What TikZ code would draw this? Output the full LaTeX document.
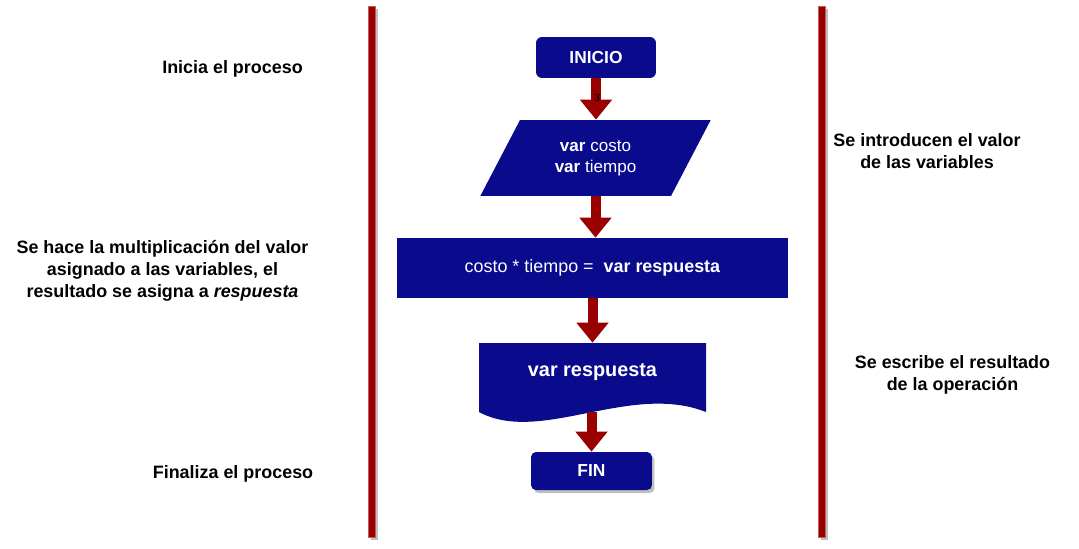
\documentclass[tikz,border=0pt]{standalone}
\usepackage{fontspec}
\setmainfont{Liberation Sans}
\usetikzlibrary{shapes.geometric,arrows.meta,shadows}
\definecolor{azul}{RGB}{10,10,140}
\definecolor{rojo}{RGB}{153,0,0}
\definecolor{borde}{RGB}{196,90,90}

\begin{document}
\begin{tikzpicture}[x=0.02cm,y=-0.02cm,
  caja/.style={fill=azul, text=white, inner sep=0pt, font=\fontsize{9.9}{12}\selectfont\bfseries},
  sombra/.style={drop shadow={shadow xshift=0.05cm, shadow yshift=-0.06cm, fill=black!25, opacity=1}},
  flecha/.style={draw=rojo, line width=0.2cm, -{Triangle[width=0.62cm,length=0.4cm]}},
  nota/.style={align=center, font=\fontsize{10.2}{12.6}\selectfont\bfseries},
  barra/.style={fill=rojo, draw=borde, line width=0.5pt, inner sep=0pt, minimum width=0.14cm, minimum height=10.62cm, sombra}]
\useasboundingbox (0,0) rectangle (1079,548);
% lineas de separacion
\node[barra] (barraizq) at (371.5,271.5) {};
\node[barra] (barrader) at (821.5,271.5) {};
% diagrama
\node[caja, rounded corners=0.12cm, minimum width=2.4cm, minimum height=0.82cm] (inicio) at (596,57.5) {INICIO};
\node[caja, trapezium, trapezium left angle=59, trapezium right angle=121, trapezium stretches=true, minimum width=4.62cm, minimum height=1.52cm, align=center, font=\fontsize{9.7}{12}\selectfont] (entrada) at (595.5,158) {\textbf{var} costo\\\textbf{var} tiempo};
\node[caja, minimum width=7.82cm, minimum height=1.2cm, font=\fontsize{10.2}{12}\selectfont] (proceso) at (592.5,268) {costo * tiempo = \ \textbf{var respuesta}};
\fill[azul] (479,343) -- (706,343) -- (706,412) .. controls (630,382) and (540,445) .. (479,412) -- cycle;
\node[text=white, inner sep=0pt, minimum width=4.54cm, minimum height=1.38cm, text height=8pt, text depth=9.6pt, font=\fontsize{11.3}{13}\selectfont\bfseries] (salida) at (592.5,377.5) {var respuesta};
\node[caja, sombra, rounded corners=0.1cm, minimum width=2.42cm, minimum height=0.76cm] (fin) at (591.5,471) {FIN};
\draw[flecha] (inicio.south) -- (inicio.south |- entrada.north);
\draw[flecha] (entrada.south) -- (entrada.south |- proceso.north);
\draw[flecha] (proceso.south) -- (proceso.south |- salida.north);
\draw[flecha] (fin.north |- salida.south) -- (fin.north);
\node[font=\fontsize{6}{6}\selectfont, inner sep=0pt] (num) at (597,98) {3};
% notas
\node[nota] (n1) at (232.5,69) {Inicia el proceso};
\node[nota] (n2) at (162.5,270.5) {Se hace la multiplicación del valor\\asignado a las variables, el\\resultado se asigna a \textit{respuesta}};
\node[nota] (n3) at (233,474) {Finaliza el proceso};
\node[nota] (n4) at (927,151.5) {Se introducen el valor\\de las variables};
\node[nota] (n5) at (952.5,375) {Se escribe el resultado\\de la operación};
\end{tikzpicture}
\end{document}
